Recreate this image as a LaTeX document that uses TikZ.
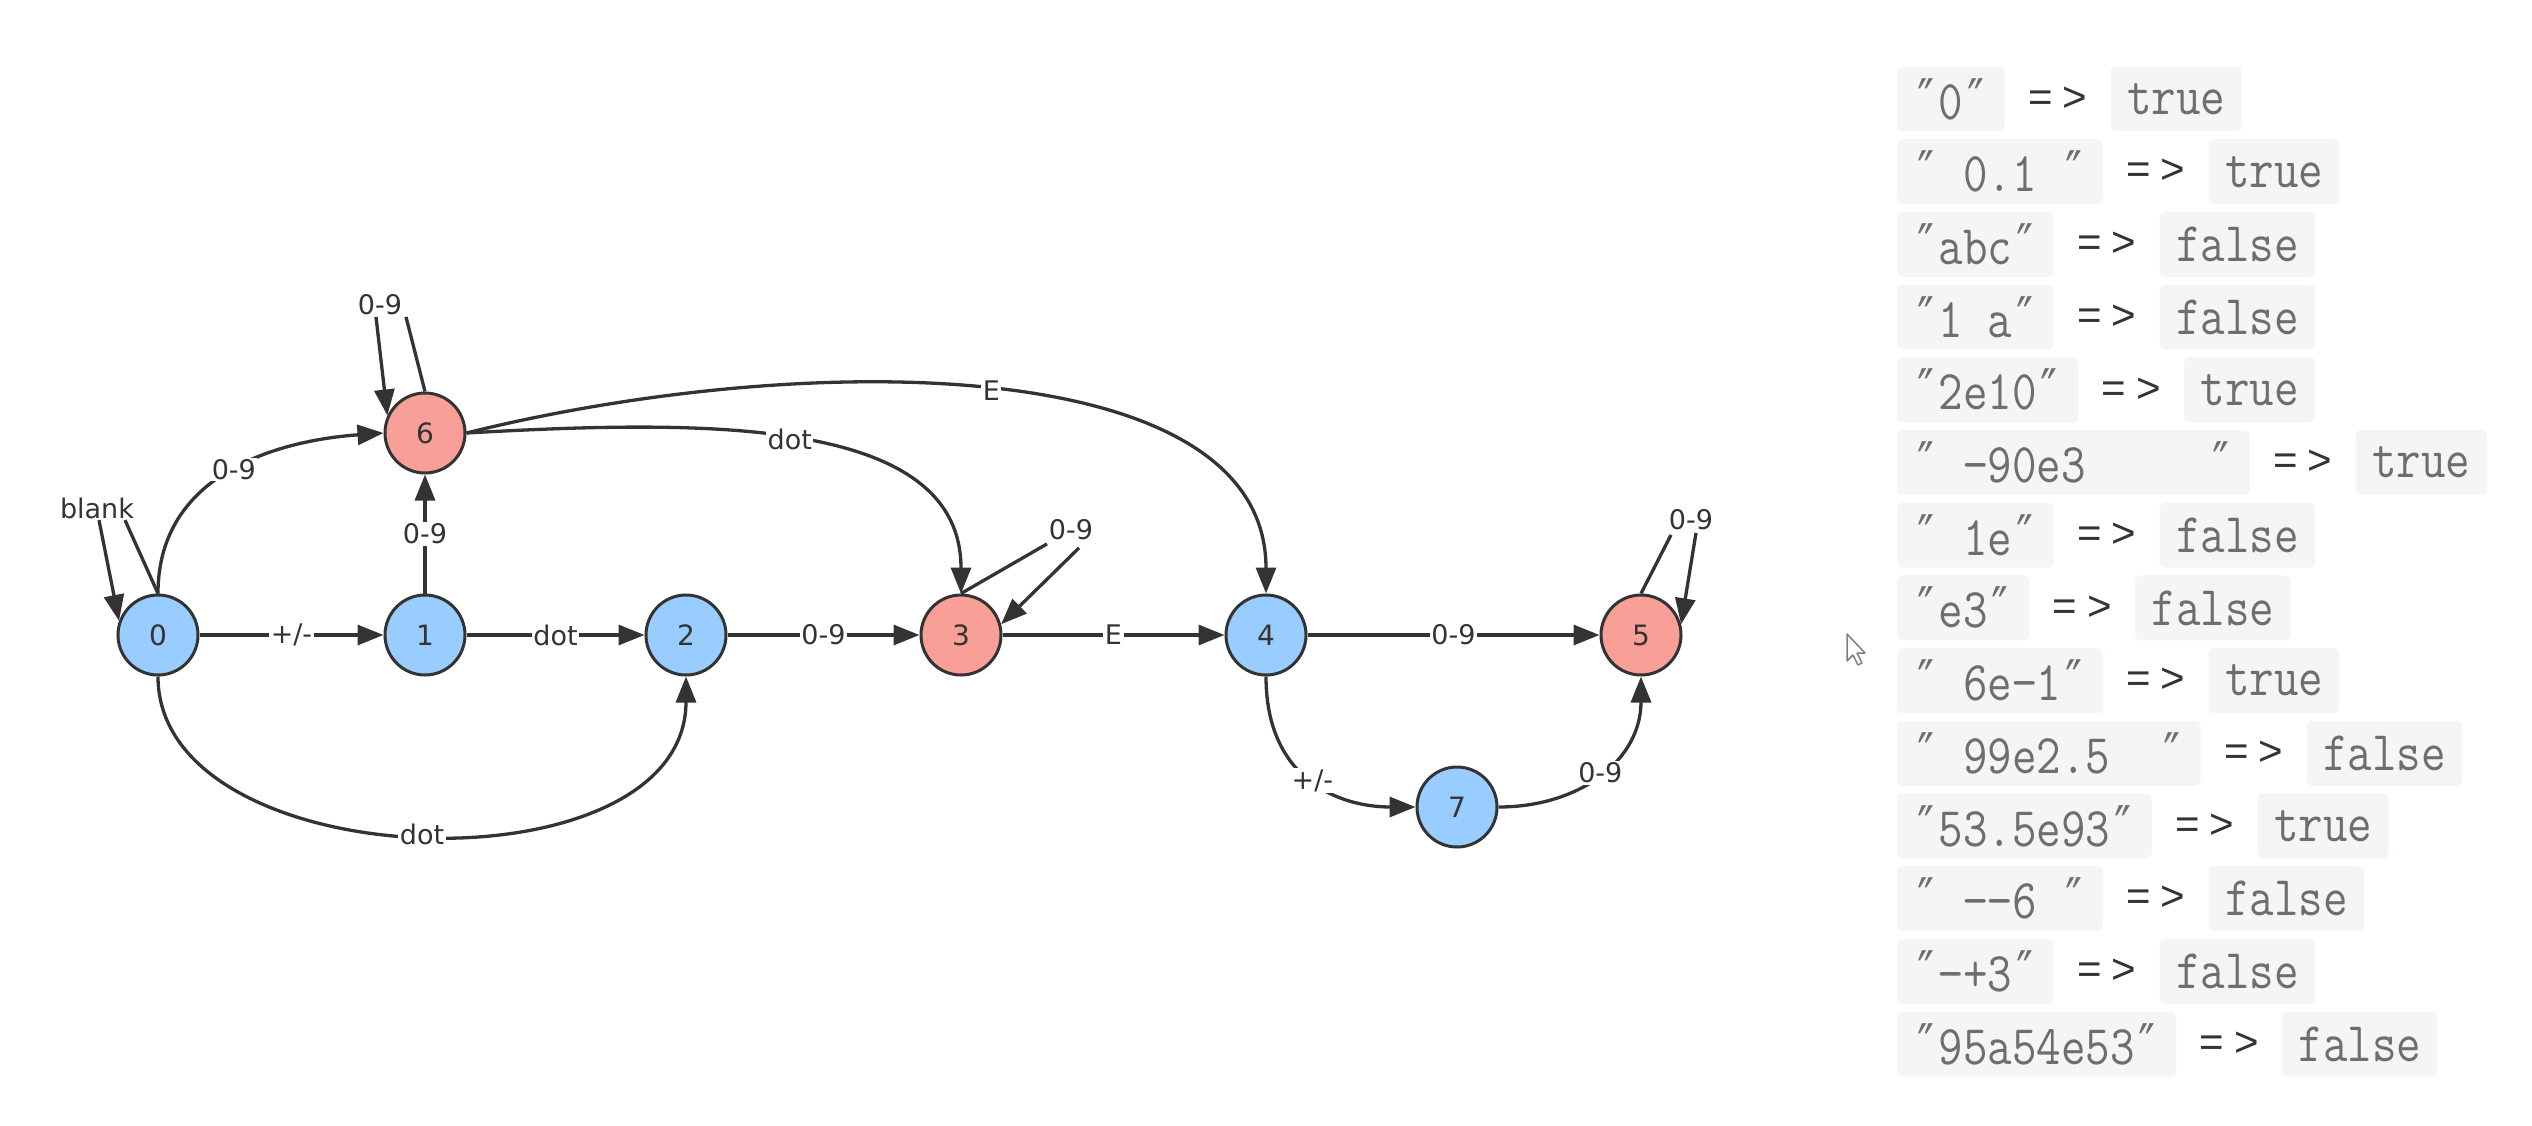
\documentclass[tikz,border=0pt]{standalone}
\usepackage{fontspec}
\usetikzlibrary{arrows.meta}
\newfontfamily\lblfont{DejaVu Sans}
\newfontfamily\codefont{Latin Modern Mono}[FakeStretch=0.85]
\newfontfamily\dqfont{DejaVu Sans Mono}[FakeStretch=0.8]
\newfontfamily\opfont{Liberation Sans}
\newcommand\dq{\makebox[24.99pt]{\dqfont ″}}
\definecolor{nodeblue}{RGB}{153,204,255}
\definecolor{nodered}{RGB}{248,160,152}
\definecolor{ink}{RGB}{51,51,51}
\definecolor{codebg}{RGB}{243,245,247}
\definecolor{codetext}{RGB}{110,110,110}
\begin{document}
\begin{tikzpicture}[x=1pt,y=-1pt,
  st/.style={circle, draw=ink, line width=3pt, minimum size=80pt, inner sep=0pt,
    font=\lblfont\fontsize{28}{30}\selectfont, text=ink},
  bnode/.style={st, fill=nodeblue},
  rnode/.style={st, fill=nodered},
  link/.style={draw=ink, line width=3.3pt},
  arrowed/.style={link, -{Triangle[length=26pt,width=20pt]}},
  lbl/.style={fill=white, inner sep=1.5pt, font=\lblfont\fontsize{27}{30}\selectfont, text=ink},
  codebox/.style={fill=codebg, rounded corners=6pt, inner xsep=16.5pt, inner ysep=0pt,
    minimum height=65pt, anchor=west, font=\codefont\fontsize{56}{60}\selectfont, text=codetext},
  arrtext/.style={inner sep=0pt, anchor=west, font=\opfont\fontsize{42}{44}\selectfont, text=ink}]
\useasboundingbox[fill=white] (0,0) rectangle (2532,1126);

% states
\node[bnode] (n0) at (158,635) {0};
\node[bnode] (n1) at (425,635) {1};
\node[bnode] (n2) at (686,635) {2};
\node[rnode] (n3) at (961,635) {3};
\node[bnode] (n4) at (1266,635) {4};
\node[rnode] (n5) at (1641,635) {5};
\node[rnode] (n6) at (425,433) {6};
\node[bnode] (n7) at (1457,807) {7};

% straight transitions
\draw[arrowed] (n0) -- node[lbl]{+/-} (n1);
\draw[arrowed] (n1) -- node[lbl]{dot} (n2);
\draw[arrowed] (n2) -- node[lbl]{0-9} (n3);
\draw[arrowed] (n3) -- node[lbl]{E} (n4);
\draw[arrowed] (n4) -- node[lbl]{0-9} (n5);
\draw[arrowed] (n1) -- node[lbl]{0-9} (n6);

% curved transitions
\draw[arrowed] (n0.north) .. controls (158,470) and (285,440) .. node[lbl]{0-9} (n6.west);
\draw[arrowed] (n0.south) .. controls (158,880) and (686,895) .. node[lbl]{dot} (n2.south);
\draw[arrowed] (n6.east) .. controls (700,420) and (961,415) .. node[lbl,pos=0.48]{dot} (n3.north);
\draw[arrowed] (n6.east) .. controls (800,350) and (1266,350) .. node[lbl]{E} (n4.north);
\draw[arrowed] (n4.south) .. controls (1266,780) and (1340,807) .. node[lbl]{+/-} (n7.west);
\draw[arrowed] (n7.east) .. controls (1580,807) and (1641,760) .. node[lbl]{0-9} (n5.south);

% self loops
\node[lbl] (l0) at (97,508) {blank};
\draw[link] (n0.north) -- ([xshift=28pt]l0.south);
\draw[arrowed] ([xshift=2pt]l0.south) -- (n0.160);

\node[lbl] (l6) at (380,305) {0-9};
\draw[link] (n6.north) -- ([xshift=26pt]l6.south);
\draw[arrowed] ([xshift=-4pt]l6.south) -- (n6.155);

\node[lbl] (l3) at (1071,530) {0-9};
\draw[link] (n3.north) -- ([xshift=-24pt,yshift=-2pt]l3.south);
\draw[arrowed] ([xshift=8pt,yshift=-6pt]l3.south) -- (n3.15);

\node[lbl] (l5) at (1691,520) {0-9};
\draw[link] (n5.north) -- ([xshift=-20pt,yshift=-3pt]l5.south);
\draw[arrowed] ([xshift=5pt,yshift=-1pt]l5.south) -- (n5.15);

% mouse pointer
\draw[draw=gray, fill=white, line width=1.5pt, line join=round]
  (1847,634) -- (1847,661) -- (1853,655) -- (1858,665) -- (1862,663) -- (1857,653) -- (1865,653) -- cycle;

% examples
\foreach \s/\r [count=\i] in {
  {\dq0\dq}/true,
  {\dq~0.1~\dq}/true,
  {\dq abc\dq}/false,
  {\dq1~a\dq}/false,
  {\dq2e10\dq}/true,
  {\dq~−90e3~~~~~\dq}/true,
  {\dq~1e\dq}/false,
  {\dq e3\dq}/false,
  {\dq~6e−1\dq}/true,
  {\dq~99e2.5~~\dq}/false,
  {\dq53.5e93\dq}/true,
  {\dq~−−6~\dq}/false,
  {\dq−+3\dq}/false,
  {\dq95a54e53\dq}/false}{
  \node[codebox] (c\i) at (1897,{99+72.7*(\i-1)}) {\s};
  \node[arrtext] (a\i) at ([xshift=23pt]c\i.east) {=\kern10pt>};
  \node[codebox] (r\i) at ([xshift=23pt]a\i.east) {\r};
}
\end{tikzpicture}
\end{document}
